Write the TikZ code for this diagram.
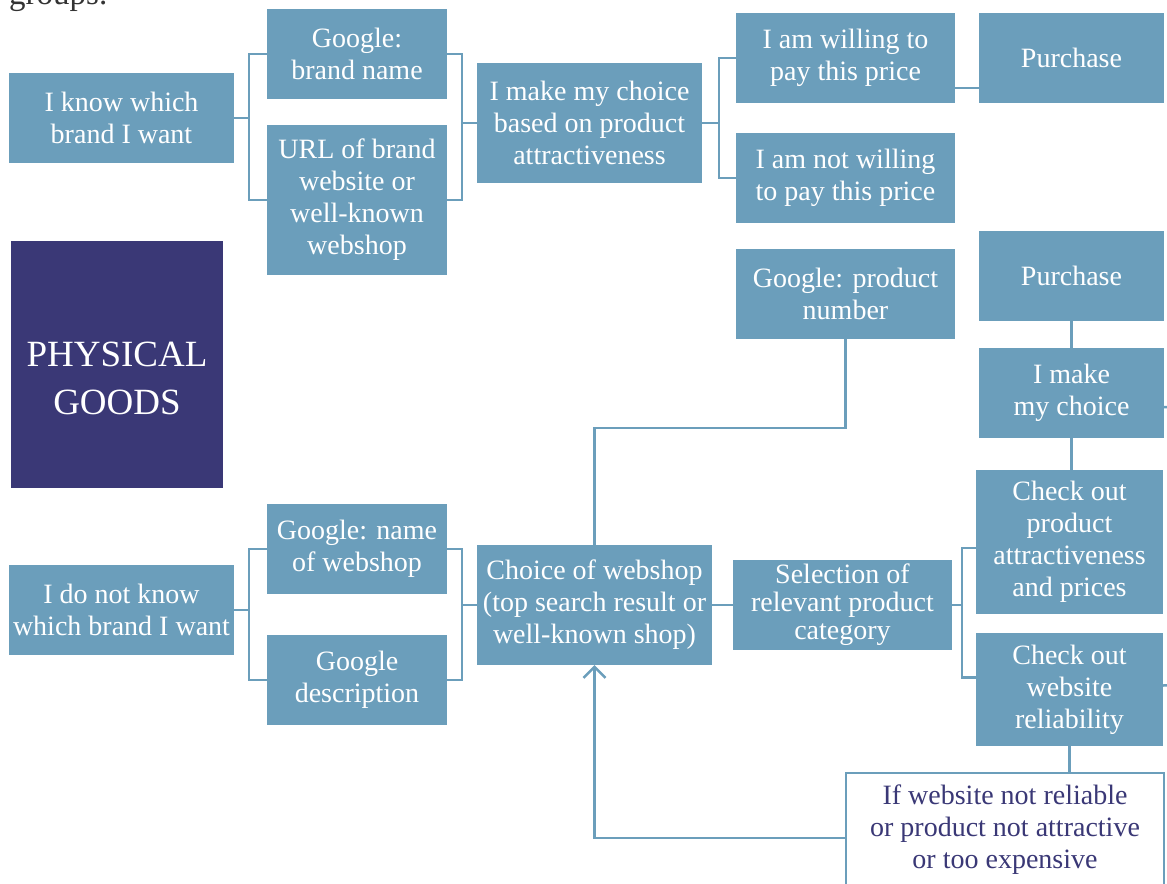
\documentclass[tikz,border=0pt]{standalone}
\usepackage{fontspec}
\setmainfont{Liberation Serif}
\usetikzlibrary{arrows.meta}
\definecolor{boxblue}{RGB}{107,158,187}
\definecolor{navy}{RGB}{58,56,118}
\begin{document}
\begin{tikzpicture}[x=1bp, y=-1bp,
  every node/.style={font=\fontsize{28bp}{32bp}\selectfont, align=center, inner sep=0pt},
  box/.style 2 args={fill=boxblue, text=white, minimum width=#1bp, minimum height=#2bp},
  link/.style={draw=boxblue, line width=2.5bp}]
  \useasboundingbox[fill=white] (0,0) rectangle (1167,884);
  \node[anchor=base west, text=black!80, font=\fontsize{33bp}{36bp}\selectfont] (grp) at (9,4) {groups.};
  \node[box={225}{90}] (kw) at (121.5,118) {I know which\\brand I want};
  \node[box={180}{90}] (gb) at (357,54) {Google:\\brand name};
  \node[box={180}{150}] (url) at (357,200) {URL of brand\\website or\\well-known\\webshop};
  \node[box={225}{120}] (c1) at (589.5,123) {I make my choice\\based on product\\attractiveness};
  \node[box={219}{90}] (wi) at (845.5,58) {I am willing to\\pay this price};
  \node[box={219}{90}] (nw) at (845.5,178) {I am not willing\\to pay this price};
  \node[box={185}{90}] (pu1) at (1071.5,58) {Purchase};
  \node[box={212}{247}, fill=navy, font=\fontsize{37bp}{48bp}\selectfont] (pg) at (117,364.5) {\rule{0pt}{52bp}PHYSICAL\\GOODS};
  \node[box={219}{90}] (gp) at (845.5,294) {Google: product\\number};
  \node[box={185}{90}] (pu2) at (1071.5,276) {Purchase};
  \node[box={185}{90}] (mc) at (1071.5,393) {I make\\my choice};
  \node[box={187}{144}] (ca) at (1069.5,542) {Check out\\product\\attractiveness\\and prices};
  \node[box={187}{113}] (cw) at (1069.5,689.5) {Check out\\website\\reliability};
  \node[box={225}{90}] (nk) at (121.5,610) {I do not know\\which brand I want};
  \node[box={180}{90}] (gn) at (357,549) {Google: name\\of webshop};
  \node[box={180}{90}] (gd) at (357,680) {Google\\description};
  \node[box={235}{120}] (ws) at (594.5,605) {Choice of webshop\\(top search result or\\well-known shop)};
  \node[box={219}{90}, font=\fontsize{28bp}{28bp}\selectfont] (se) at (842.5,605) {Selection of\\relevant product\\category};
  \node[draw=boxblue, line width=2.5bp, fill=white, text=navy, minimum width=318bp, minimum height=114bp] (nr) at (1005,830) {If website not reliable\\or product not attractive\\or too expensive};
  \draw[link] (kw.east) -- ++(15,0) coordinate (j1) |- (gb.west); \draw[link] (j1) |- (url.west);
  \draw[link] (gb.east) -- ++(15,0) |- (url.east); \draw[link] (c1.west) -- ++(-15,0);
  \draw[link] (c1.east) -- ++(17,0) coordinate (j2) |- (wi.west); \draw[link] (j2) |- (nw.west);
  \draw[link] ([yshift=-30bp]wi.east) -- ([yshift=-30bp]wi.east -| pu1.west);
  \draw[link] (nk.east) -- ++(15,0) coordinate (j3) |- (gn.west); \draw[link] (j3) |- (gd.west);
  \draw[link] (gn.east) -- ++(15,0) |- (gd.east); \draw[link] (ws.west) -- ++(-15,0);
  \draw[link] (ws.east) -- (se.west);
  \draw[link] (se.east) -- ++(10,0) coordinate (j4) |- ([yshift=-6bp]ca.west); \draw[link] (j4) |- ([yshift=12bp]cw.west);
  \draw[link] (ws.north) -- ++(0,-117) -| (gp.south);
  \draw[link] (pu2) -- (mc);
  \draw[link] (mc.south) -- (mc.south |- ca.north);
  \draw[link] (cw.south) -- (cw.south |- nr.north);
  \draw[link, -{Straight Barb[length=11bp, width=22bp]}] ([yshift=-8bp]nr.west) -| (ws.south);
  \coordinate (e1) at (1180,407); \coordinate (e2) at (1180,685);
  \draw[link] ([yshift=-14bp]mc.east) -- (e1);
  \draw[link] ([yshift=4bp]cw.east) -- (e2);
\end{tikzpicture}
\end{document}
